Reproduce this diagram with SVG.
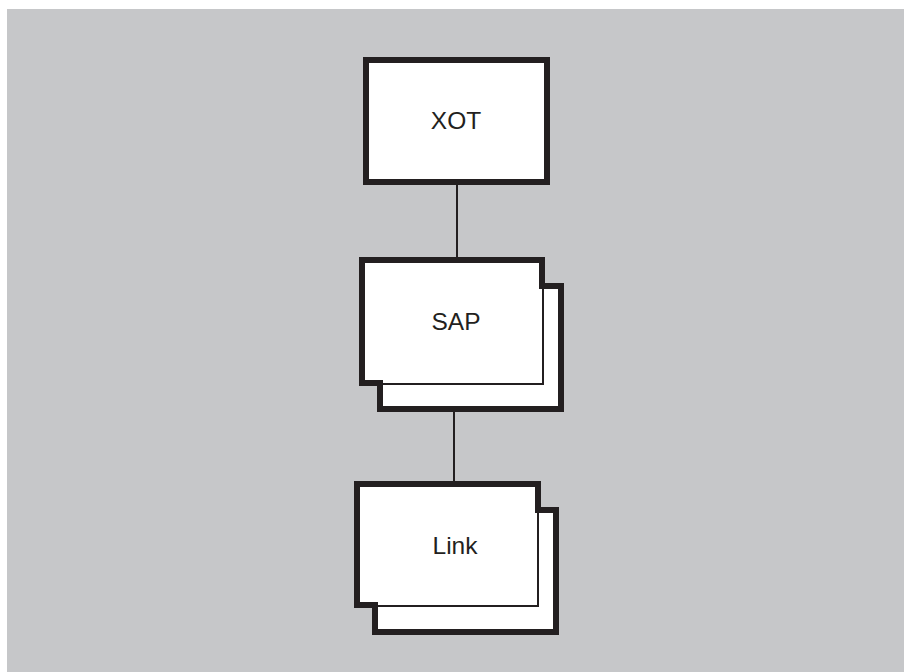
<svg xmlns="http://www.w3.org/2000/svg" width="904" height="672" viewBox="0 0 904 672">
<style>
.box{fill:#fff;stroke:#231f20;stroke-width:6;stroke-linejoin:miter}
.thin{fill:none;stroke:#231f20;stroke-width:2}
.conn{stroke:#231f20;stroke-width:2;fill:none}
.lbl{font-family:"Liberation Sans",Arial,sans-serif;font-size:24.5px;fill:#231f20;text-anchor:middle}
</style>
<rect x="7" y="9" width="897" height="663" fill="#c6c7c9"/>
<g id="connectors">
<line class="conn" x1="457" y1="185" x2="457" y2="257"/>
<line class="conn" x1="454" y1="412" x2="454" y2="481"/>
</g>
<g id="xot">
<rect class="box" x="366" y="60" width="181" height="122"/>
<text class="lbl" x="456" y="129">XOT</text>
</g>
<g id="sap">
<path class="box" d="M362,260 H542 V286 H561 V409 H380 V383 H362 Z"/>
<polyline class="thin" points="543,286 543,384 380,384"/>
<text class="lbl" x="456" y="330">SAP</text>
</g>
<g id="link">
<path class="box" d="M357,484 H538 V510 H556 V632 H375 V605 H357 Z"/>
<polyline class="thin" points="538,510 538,606 375,606"/>
<text class="lbl" x="455" y="554">Link</text>
</g>
</svg>
